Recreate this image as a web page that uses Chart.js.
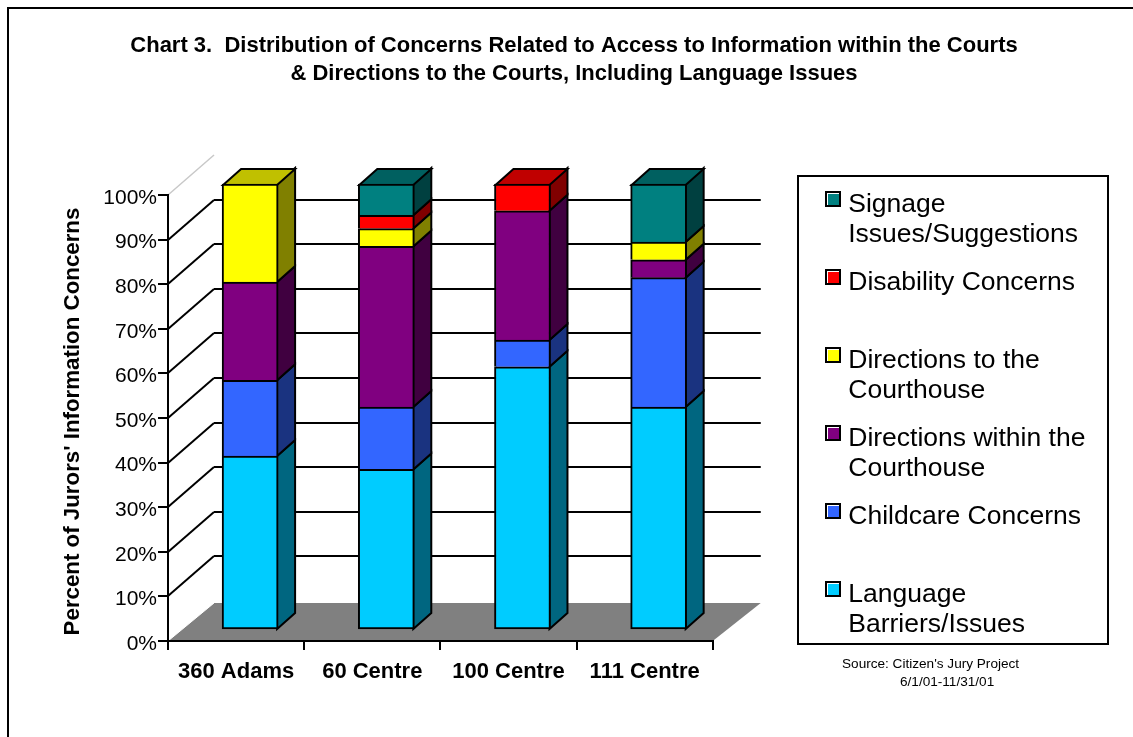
<!DOCTYPE html>
<html>
<head>
<meta charset="utf-8">
<title>Chart 3</title>
<script src="https://cdn.jsdelivr.net/npm/chart.js@4"></script>
<style>
    html, body { margin: 0; padding: 0; background: #fff; overflow: hidden; }
    #marco { position: absolute; left: 7px; top: 7px; right: -4px; bottom: -4px; border: 2px solid #000; box-sizing: border-box; }
    canvas { position: absolute; left: 0; top: 0; }
</style>
</head>
<body>
<div style="position:absolute;left:0;top:0;width:1133px;height:737px">
    <canvas id="grafico" width="1133" height="737"></canvas>
    <div id="marco"></div>
</div>
<script>
const categorias = ['360 Adams', '60 Centre', '100 Centre', '111 Centre'];

const idioma = [39, 36, 59, 50];
const cuidado = [17, 14, 6, 29];
const dentro = [22, 36, 29, 4];
const hacia = [22, 4, 0, 4];
const discapacidad = [0, 3, 6, 0];
const senales = [0, 7, 0, 13];

const nombres = ['Language Barriers/Issues', 'Childcare Concerns', 'Directions within the Courthouse', 'Directions to the Courthouse', 'Disability Concerns', 'Signage Issues/Suggestions'];
const lineasLeyenda = [['Language', 'Barriers/Issues'], ['Childcare Concerns', ''], ['Directions within the', 'Courthouse'], ['Directions to the', 'Courthouse'], ['Disability Concerns', ''], ['Signage', 'Issues/Suggestions']];

const colores = ['#00CCFF', '#3366FF', '#800080', '#FFFF00', '#FF0000', '#008080'];
const coloresLado = ['#006680', '#1A3380', '#400040', '#808000', '#800000', '#004040'];
const coloresTapa = ['#0099C0', '#264CC0', '#600060', '#C0C000', '#C00000', '#006060'];

const fuente = "'Liberation Sans', Arial, sans-serif";
Chart.defaults.font.family = fuente;
Chart.defaults.color = '#000';

// profundidad de la pared del fondo, del piso y de las barras
const fondoX = 46, fondoY = -40;
const pisoFondoY = -38;
const barraX = 14, barraY = -11;
const ladoX = 18, ladoY = -16;

function poligono(ctx, puntos, relleno, borde) {
    ctx.beginPath();
    puntos.forEach((p, i) => i ? ctx.lineTo(p[0], p[1]) : ctx.moveTo(p[0], p[1]));
    ctx.closePath();
    ctx.fillStyle = relleno;
    ctx.fill();
    if (borde) {
        ctx.strokeStyle = borde;
        ctx.lineWidth = 2;
        ctx.stroke();
    }
}

// cuadrito de la leyenda: se dibuja corrido para que quede arriba y a la derecha del punto de Chart.js
function hacerCuadrito(color) {
    const c = document.createElement('canvas');
    c.width = 22;
    c.height = 27;
    const g = c.getContext('2d');
    g.fillStyle = '#000';
    g.fillRect(6, 0, 16, 16);
    g.fillStyle = '#fff';
    g.fillRect(8, 2, 12, 12);
    g.fillStyle = color;
    g.fillRect(9, 3, 11, 11);
    return c;
}

const escena3d = {
    id: 'escena3d',
    afterLayout(chart) {
        // la leyenda y los titulos no siguen el layout normal
        chart.titleBlock.left = 0;
        chart.titleBlock.right = 1148;
        chart.legend.left = 807;
        chart.legend.right = 1105;
        chart.legend.top = 173.25;
        chart.legend.bottom = 173.25 + chart.legend.height;
        chart.scales.y.bottom += 7;
    },
    beforeDraw(chart) {
        const ctx = chart.ctx;
        const { left, right } = chart.chartArea;
        const y = chart.scales.y;
        const piso = y.getPixelForValue(0);
        ctx.save();
        // piso gris
        poligono(ctx, [[left, piso], [left + fondoX, piso + pisoFondoY], [right + fondoX + 2, piso + pisoFondoY], [right, piso]], '#808080');
        ctx.lineCap = 'butt';
        y.ticks.forEach(t => {
            const py = Math.round(y.getPixelForValue(t.value));
            if (t.value === 0) {
                ctx.strokeStyle = '#fff';
                ctx.lineWidth = 1;
            } else if (t.value === 100) {
                ctx.strokeStyle = '#c8c8c8';
                ctx.lineWidth = 1.5;
            } else {
                ctx.strokeStyle = '#000';
                ctx.lineWidth = 2;
            }
            ctx.beginPath();
            ctx.moveTo(left, py);
            ctx.lineTo(left + fondoX, py + (t.value === 0 ? pisoFondoY : fondoY));
            ctx.stroke();
            if (t.value > 0 && t.value < 100) {
                ctx.beginPath();
                ctx.moveTo(left + fondoX, py + fondoY);
                ctx.lineTo(right + fondoX + 2, py + fondoY);
                ctx.stroke();
            }
        });
        ctx.restore();
    },
    beforeDatasetsDraw(chart) {
        const ctx = chart.ctx;
        ctx.save();
        ctx.translate(barraX, barraY);
        categorias.forEach((c, j) => {
            let tapa = null;
            chart.data.datasets.forEach((ds, i) => {
                if (!ds.data[j]) return;
                const barra = chart.getDatasetMeta(i).data[j];
                const x1 = barra.x + barra.width / 2 - 1;
                poligono(ctx, [[x1, barra.base], [x1 + ladoX, barra.base + ladoY], [x1 + ladoX, barra.y + ladoY], [x1, barra.y]], coloresLado[i], '#000');
                tapa = { barra, i };
            });
            const x0 = tapa.barra.x - tapa.barra.width / 2 + 1;
            const x1 = tapa.barra.x + tapa.barra.width / 2 - 1;
            const yt = tapa.barra.y + 1;
            poligono(ctx, [[x0, yt], [x0 + ladoX, yt + ladoY], [x1 + ladoX, yt + ladoY], [x1, yt]], coloresTapa[tapa.i], '#000');
        });
    },
    afterDatasetsDraw(chart) {
        chart.ctx.restore();
    },
    afterDraw(chart) {
        const ctx = chart.ctx;
        ctx.save();
        ctx.strokeStyle = '#000';
        ctx.lineWidth = 2;
        ctx.strokeRect(798, 176, 310, 468);
        ctx.fillStyle = '#000';
        ctx.font = '13.6px ' + fuente;
        ctx.textBaseline = 'middle';
        ctx.textAlign = 'left';
        ctx.fillText("Source: Citizen's Jury Project", 842, 664);
        ctx.fillText('6/1/01-11/31/01', 900, 682);
        ctx.restore();
    }
};

function hacerDataset(i, valores) {
    return {
        label: nombres[i],
        data: valores,
        backgroundColor: colores[i],
        borderColor: '#000',
        borderWidth: { top: 2, left: 2, right: 2, bottom: i === 0 ? 2 : 0 },
        borderSkipped: false,
        barThickness: 56,
        clip: false
    };
}

new Chart(document.getElementById('grafico'), {
    type: 'bar',
    plugins: [escena3d],
    data: {
        labels: categorias,
        datasets: [
            hacerDataset(0, idioma),
            hacerDataset(1, cuidado),
            hacerDataset(2, dentro),
            hacerDataset(3, hacia),
            hacerDataset(4, discapacidad),
            hacerDataset(5, senales)
        ]
    },
    options: {
        responsive: false,
        animation: false,
        layout: { padding: { top: 0, left: 55, right: 201, bottom: 36 } },
        plugins: {
            title: {
                display: true,
                text: ['Chart 3.  Distribution of Concerns Related to Access to Information within the Courts', '& Directions to the Courts, Including Language Issues'],
                font: { size: 22, weight: 'bold', lineHeight: 28 / 22 },
                color: '#000',
                padding: { top: 32, bottom: 107 }
            },
            legend: {
                position: 'right',
                align: 'start',
                labels: {
                    usePointStyle: true,
                    boxWidth: 10,
                    boxHeight: 10,
                    padding: 18,
                    color: '#000',
                    font: { size: 26.5, lineHeight: 30 / 26.5 },
                    generateLabels: function() {
                        return lineasLeyenda.map((texto, i) => ({
                            text: texto,
                            pointStyle: hacerCuadrito(colores[i]),
                            datasetIndex: i,
                            hidden: false
                        })).reverse();
                    }
                }
            },
            tooltip: { enabled: false }
        },
        scales: {
            x: {
                stacked: true,
                afterFit: function(scale) { scale.height = 60; },
                grid: { color: '#000', lineWidth: 2, tickLength: 9, drawOnChartArea: false },
                border: { color: '#000', width: 2 },
                ticks: { color: '#000', padding: 9, maxRotation: 0, font: { size: 22, weight: 'bold' } }
            },
            y: {
                stacked: true,
                min: 0,
                max: 100,
                afterFit: function(scale) { scale.width = 113; },
                grid: { color: '#000', lineWidth: 2, tickLength: 10, drawOnChartArea: false },
                border: { color: '#000', width: 2 },
                ticks: {
                    stepSize: 10,
                    color: '#000',
                    padding: 1,
                    labelOffset: 3,
                    font: { size: 21 },
                    callback: function(v) { return v + '%'; }
                },
                title: {
                    display: true,
                    text: "Percent of Jurors' Information Concerns",
                    color: '#000',
                    font: { size: 22.3, weight: 'bold' },
                    padding: { top: 4, bottom: 0 }
                }
            }
        }
    }
});
</script>
</body>
</html>
